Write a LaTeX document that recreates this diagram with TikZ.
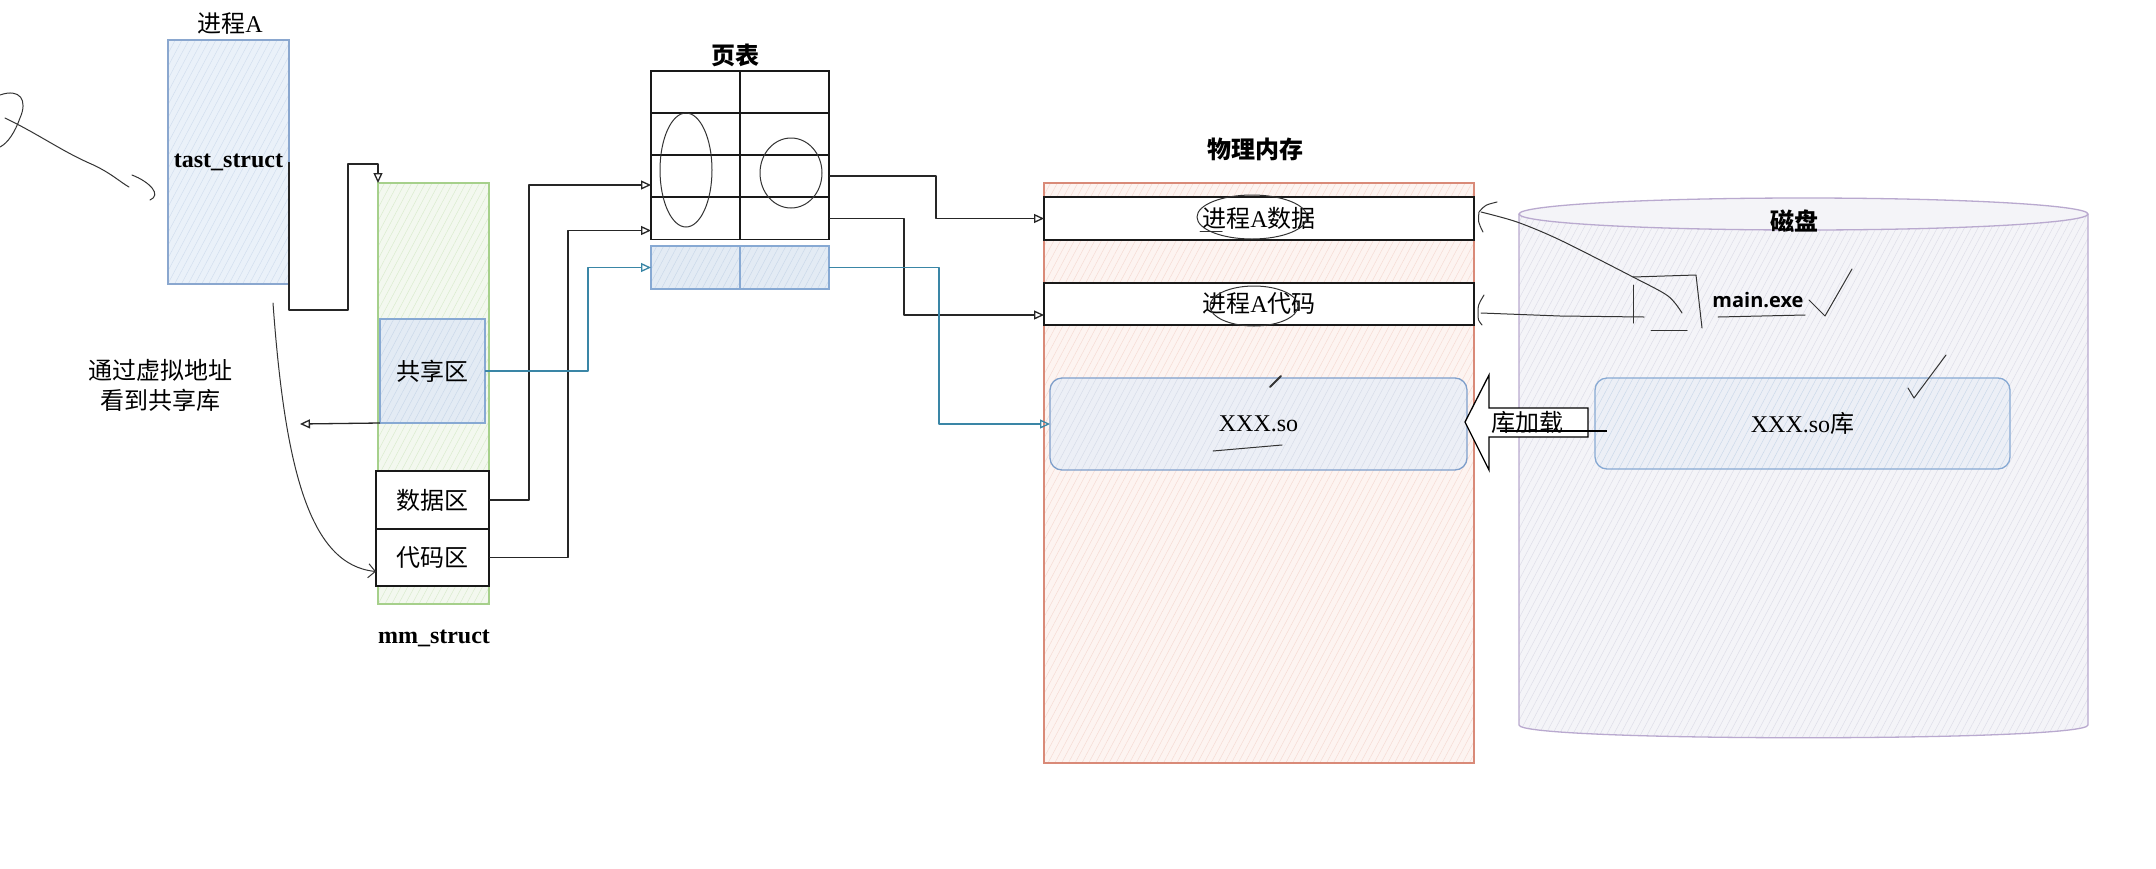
\documentclass[tikz,border=0pt]{standalone}
\usepackage{fontspec}
\setmainfont{Liberation Serif}
\newfontfamily\cjk{Noto Sans CJK SC}
\newfontfamily\sansf{Open Sans}
\usetikzlibrary{arrows.meta,patterns.meta,calc}
\newcommand\fsz{\fontsize{24}{30}\selectfont}
\definecolor{procS}{HTML}{8AA7CF}
\definecolor{procF}{HTML}{EAF1F9}
\definecolor{procH}{HTML}{D0DDEE}
\definecolor{mmS}{HTML}{A6D08B}
\definecolor{mmF}{HTML}{F3F8EF}
\definecolor{mmH}{HTML}{D8EBCB}
\definecolor{shS}{HTML}{87A9D3}
\definecolor{shF}{HTML}{E3EBF4}
\definecolor{shH}{HTML}{C8D7E9}
\definecolor{memS}{HTML}{D98A78}
\definecolor{memF}{HTML}{FDF4F1}
\definecolor{memH}{HTML}{F5D9D1}
\definecolor{soS}{HTML}{7F9FCB}
\definecolor{soF}{HTML}{ECEFF6}
\definecolor{soH}{HTML}{D5DBE8}
\definecolor{diskS}{HTML}{B9A9CF}
\definecolor{diskF}{HTML}{F4F4F8}
\definecolor{diskH}{HTML}{DCDCE7}
\definecolor{linkblue}{HTML}{3A86A6}
\begin{document}
\begin{tikzpicture}[x=1pt,y=-1pt,
  every node/.style={inner sep=0pt, outer sep=0pt},
  box/.style={draw=black!90, line width=1.6pt, fill=white},
  hbox/.style n args={3}{draw=#1, line width=1.3pt, preaction={fill=#2},
     pattern={Lines[angle=62,distance=6pt,line width=0.45pt]}, pattern color=#3},
  cell/.style={box, minimum width=89pt, minimum height=42pt},
  conn/.style={draw=black!85, line width=1.3pt, line join=round,
     -{Triangle[open,length=10pt,width=9pt]}},
  bconn/.style={conn, draw=linkblue},
  scrib/.style={draw=black!80, line width=1pt, line cap=round, line join=round},
  txt/.style={font=\fsz},
]
\useasboundingbox (0,0) rectangle (2156,868);
\fill[white] (0,0) rectangle (2156,868);

% ---------- process A ----------
\node[txt] (plabel) at (230,24) {{\cjk 进程}A};
\node[hbox={procS}{procF}{procH}, minimum width=121pt, minimum height=244pt,
      font=\fsz\bfseries] (proc) at (228.5,162) {tast\_struct};

% ---------- mm_struct ----------
\node[hbox={mmS}{mmF}{mmH}, minimum width=111pt, minimum height=421pt] (mm) at (433.5,393.5) {};
\node[hbox={shS}{shF}{shH}, minimum width=105pt, minimum height=104pt, font=\fsz\cjk] (share) at (432.5,371) {共享区};
\node[box, minimum width=113pt, minimum height=58pt, font=\fsz\cjk] (data) at (432.5,500) {数据区};
\node[box, minimum width=113pt, minimum height=57pt, font=\fsz\cjk] (code) at (432.5,557.5) {代码区};
\node[font=\fsz\bfseries] (mmlabel) at (434,638) {mm\_struct};
\node[font=\fsz\cjk, align=center] (note) at (160,385) {通过虚拟地址\\看到共享库};

% ---------- page table ----------
\node[font=\fsz\cjk\bfseries] (ptlabel) at (735,55) {页表};
\node[cell] (r1l) at (695.5,92) {};
\node[cell] (r1r) at (784.5,92) {};
\node[cell] (r2l) at (695.5,134) {};
\node[cell] (r2r) at (784.5,134) {};
\node[cell] (r3l) at (695.5,176) {};
\node[cell] (r3r) at (784.5,176) {};
\node[cell] (r4l) at (695.5,218.5) {};
\node[cell] (r4r) at (784.5,218.5) {};
\node[hbox={shS}{shF}{shH}, minimum width=89pt, minimum height=43pt] (bl) at (695.5,267.5) {};
\node[hbox={shS}{shF}{shH}, minimum width=89pt, minimum height=43pt] (br) at (784.5,267.5) {};

% ---------- physical memory ----------
\node[font=\fsz\cjk\bfseries] (memlabel) at (1255,149) {物理内存};
\node[hbox={memS}{memF}{memH}, minimum width=430pt, minimum height=580pt] (mem) at (1259,473) {};
\node[box, minimum width=430pt, minimum height=43pt, font=\fsz] (md) at (1259,218.5) {{\cjk 进程}A{\cjk 数据}};
\node[box, minimum width=430pt, minimum height=42pt, font=\fsz] (mc) at (1259,304) {{\cjk 进程}A{\cjk 代码}};
\node[hbox={soS}{soF}{soH}, rounded corners=12pt, minimum width=417pt, minimum height=92pt,
      font=\fsz] (so) at (1258.5,424) {XXX.so};

% ---------- disk ----------
\path[preaction={fill=diskF}, pattern={Lines[angle=62,distance=6pt,line width=0.45pt]}, pattern color=diskH]
  (1519,214) -- (1519,725) .. controls (1519,742) and (2088,742) .. (2088,725) -- (2088,214) -- cycle;
\draw[draw=diskS, line width=1.3pt]
  (1519,214) -- (1519,725) .. controls (1519,742) and (2088,742) .. (2088,725) -- (2088,214);
\draw[draw=diskS, line width=1.3pt, fill=diskF] (1803.5,214) ellipse [x radius=284.5, y radius=16];
\node[font=\fsz\cjk\bfseries] (disk) at (1794,221) {磁盘};
\node[font=\fontsize{20}{24}\selectfont\sansf\bfseries] (exe) at (1758,300) {main.exe};
\node[hbox={shS}{soF}{shH}, rounded corners=12pt, minimum width=415pt, minimum height=91pt,
      font=\fsz] (solib) at (1802.5,423.5) {XXX.so{\cjk 库}};

% ---------- load arrow ----------
\draw[line width=1.3pt, fill=white, line join=miter]
  (1465,422) -- (1489,375) -- (1489,408) -- (1588,408) -- (1588,437) -- (1489,437) -- (1489,470) -- cycle;
\draw[line width=1.1pt] (1500,431) -- (1607,431);
\node[font=\fsz\cjk] (load) at (1527,422) {库加载};

% ---------- connectors ----------
\draw[conn] (proc.east) -- ++(0,148) -| (348,164) -| (mm.north west);
\coordinate (seeL) at (300,424);
\draw[conn] (share.south west) -- (seeL);
\coordinate (c0) at (273,303);
\draw[scrib, -{Straight Barb[length=7pt,width=14pt]}] (c0) .. controls (285,470) and (310,565) .. ([yshift=-14pt]code.west);
\draw[conn] (data.east) -- ++(40,0) |- ($(r3l.west)+(0,9)$);
\draw[conn] (code.east) -- ++(79,0) |- ($(r4l.west)+(0,12)$);
\draw[bconn] (share.east) -- ++(103,0) |- (bl.west);
\draw[conn] (r3r.east) -- ++(107,0) |- (md.west);
\draw[conn] (r4r.east) -- ++(75,0) |- ($(mc.west)+(0,11)$);
\draw[bconn] (br.east) -- ++(110,0) |- (so.west);

% ---------- hand scribbles ----------
\draw[scrib] (0,95) .. controls (20,88) and (28,100) .. (20,118) .. controls (15,132) and (8,143) .. (0,147);
\draw[scrib] (5,118) .. controls (40,135) and (60,150) .. (89,163) .. controls (110,172) and (120,182) .. (129,187);
\draw[scrib] (132,175) .. controls (150,182) and (162,195) .. (150,200);
\draw[scrib] (686,170) ellipse [x radius=26, y radius=57];
\draw[scrib] (791,173) ellipse [x radius=31, y radius=35];
\draw[scrib] (1252,217) ellipse [x radius=55, y radius=22];
\draw[scrib] (1200,231) -- (1222,231);
\draw[scrib] (1254,306) ellipse [x radius=44, y radius=20];
\draw[scrib] (1213,451) -- (1282,445);
\draw[scrib, line width=2pt] (1270,387) -- (1281,376);
% disk -> memory hand arrows
\draw[scrib] plot[smooth] coordinates {(1682,313) (1668,296) (1633,277) (1560,240) (1517,222) (1481,212)};
\draw[scrib] (1497,202) .. controls (1485,205) .. (1479,212) .. controls (1478,222) .. (1483,232);
\draw[scrib] (1644,317) -- (1560,316) -- (1481,313);
\draw[scrib] (1484,295) .. controls (1478,305) .. (1478,313) .. controls (1478,320) .. (1482,325);
\draw[scrib] (1633,285) -- (1633,323);
\draw[scrib] (1633,277) -- (1696,275) -- (1702,328);
\draw[scrib] (1651,330) -- (1687,330);
\draw[scrib] (1718,317) -- (1805,315);
\draw[scrib] (1809,300) -- (1825,316) -- (1852,269);
\draw[scrib] (1908,388) -- (1914,398) -- (1946,355);
\end{tikzpicture}
\end{document}
